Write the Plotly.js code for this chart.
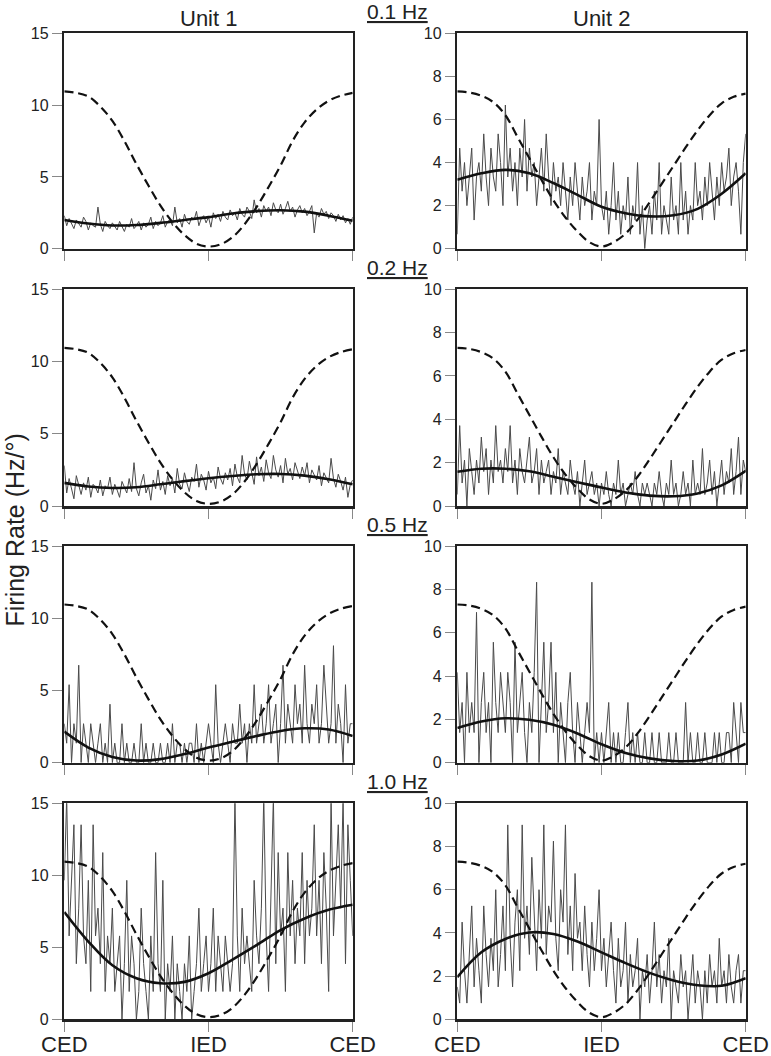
<!DOCTYPE html>
<html><head><meta charset="utf-8">
<script src="https://cdn.plot.ly/plotly-3.0.1.min.js"></script>
<style>html,body{margin:0;padding:0;background:#fff}#chart{width:771px;height:1056px}</style>
</head><body><div id="chart"></div>
<script>
// ---------- data ----------
const binWidthDeg = 3; // bin spacing of the firing-rate histograms (degrees of phase)
const xTickVals = [0, 180, 360];
const xTickText = ["CED", "IED", "CED"];
const unitTitles = ["Unit 1", "Unit 2"];
const freqLabels = ["0.1 Hz", "0.2 Hz", "0.5 Hz", "1.0 Hz"];
const yTitle = "Firing Rate (Hz/°)";
const yTicksU1 = [0, 5, 10, 15];
const yTicksU2 = [0, 2, 4, 6, 8, 10];

// stimulus position (dashed), scaled per unit
const stimPhase = [0,15,30,45,60,75,90,105,120,135,150,165,180,195,210,225,240,255,270,285,300,315,330,345,360];
const stimU1 = [10.95,10.85,10.6,9.9,8.9,7.5,5.9,4.4,3.0,1.85,0.95,0.35,0.15,0.3,0.8,1.7,2.9,4.3,5.8,7.5,8.8,9.7,10.3,10.65,10.85];
const stimU2 = [7.3,7.25,7.1,6.8,6.2,5.2,4.2,3.2,2.25,1.45,0.8,0.3,0.1,0.3,0.7,1.35,2.15,3.0,3.85,4.7,5.5,6.2,6.75,7.05,7.2];

// fitted sinusoids (solid)
const fitPhase = [0,30,60,90,120,150,180,210,240,270,300,330,360];
const fitU1_01 = [2.0,1.75,1.62,1.65,1.8,2.0,2.2,2.45,2.62,2.68,2.58,2.3,1.95];
const fitU1_02 = [1.6,1.35,1.25,1.3,1.5,1.72,1.92,2.08,2.2,2.22,2.1,1.85,1.5];
const fitU1_05 = [2.15,1.05,0.4,0.15,0.25,0.6,1.05,1.45,1.85,2.2,2.38,2.3,1.85];
const fitU1_10 = [7.45,5.4,3.75,2.85,2.5,2.6,3.2,4.15,5.15,6.2,7.0,7.6,7.95];
const fitU2_01 = [3.2,3.5,3.66,3.5,3.05,2.5,1.95,1.65,1.5,1.55,1.85,2.55,3.5];
const fitU2_02 = [1.58,1.72,1.72,1.6,1.35,1.1,0.85,0.62,0.48,0.45,0.58,0.95,1.62];
const fitU2_05 = [1.6,1.9,2.05,1.98,1.75,1.35,0.85,0.45,0.2,0.08,0.1,0.38,0.88];
const fitU2_10 = [1.95,3.1,3.72,4.02,3.95,3.6,3.1,2.6,2.15,1.8,1.58,1.55,1.9];

// binned firing rates (noisy traces)
const rateU1_01 = [2.3,1.6,2.1,1.8,1.4,2.0,1.7,1.5,2.2,1.9,1.3,1.8,1.6,1.5,2.9,1.7,1.2,1.9,1.6,1.4,
 1.8,1.5,1.3,1.9,1.6,1.2,1.7,1.5,2.1,1.4,1.6,1.9,1.3,1.8,1.5,1.7,2.2,1.4,1.9,1.6,
 1.8,2.3,1.5,1.9,2.0,1.6,2.9,1.8,2.1,1.5,2.4,1.9,1.7,2.2,2.0,2.6,1.6,2.1,2.3,1.8,
 2.2,1.5,2.5,2.1,2.4,1.9,2.6,2.2,2.0,2.7,2.3,2.5,2.0,2.8,2.4,2.2,2.9,2.6,2.1,3.4,
 2.5,2.8,2.2,3.0,2.6,2.9,2.3,3.2,2.7,2.5,3.1,2.4,2.8,3.3,2.6,2.9,2.2,2.7,3.0,2.5,
 2.8,2.3,2.6,3.0,1.1,2.5,2.2,2.8,2.4,2.6,2.1,2.5,2.3,1.9,2.4,2.0,2.3,1.8,2.1,1.7,2.2];
const rateU1_02 = [2.8,0.9,1.9,1.2,0.5,2.1,1.4,0.8,1.6,1.1,2.0,0.6,1.5,1.3,0.9,1.8,0.7,1.4,1.2,2.0,
 0.8,1.5,1.1,0.6,1.7,1.3,0.9,1.9,1.0,3.0,1.2,0.7,1.6,2.2,0.9,1.4,0.4,1.8,1.2,2.5,
 1.1,1.7,0.8,2.1,1.4,1.9,0.9,2.6,1.5,1.2,2.3,1.6,1.0,2.0,1.7,2.9,1.3,2.2,1.8,1.1,
 2.4,1.6,2.0,1.2,2.7,1.9,1.5,2.3,1.8,2.6,1.4,2.9,2.0,1.6,3.5,2.2,1.8,3.1,2.4,1.5,
 3.4,2.1,2.7,1.7,3.2,2.3,1.9,3.5,2.5,2.0,2.8,1.6,3.3,2.2,2.6,1.8,3.0,2.4,1.9,2.7,
 2.1,3.0,1.6,2.5,2.2,1.8,2.8,1.4,2.3,2.0,1.6,3.3,1.9,1.3,2.2,1.7,1.1,2.0,0.6,1.5,1.8];
const rateU1_05 = [2.7,1.35,5.4,0,2.7,1.35,6.75,0,2.7,1.35,0,2.7,1.35,0,1.35,2.7,0,1.35,0,4.05,
 0,1.35,0,0,2.7,0,1.35,0,0,1.35,0,0,2.7,0,1.35,0,0,1.35,0,0,
 1.35,0,0,1.35,0,2.7,0,1.35,1.35,0,1.35,0,1.35,1.35,0,2.7,0,1.35,0,1.35,
 2.7,1.35,0,5.4,1.35,0,1.35,2.7,1.35,0,2.7,1.35,1.35,4.05,1.35,2.7,0,2.7,1.35,5.4,
 1.35,2.7,4.05,1.35,2.7,5.4,1.35,2.7,4.05,0,2.7,6.75,1.35,4.05,2.7,1.35,5.4,2.7,4.05,1.35,
 6.75,2.7,1.35,4.05,2.7,5.4,1.35,2.7,6.75,4.05,1.35,2.7,8.1,1.35,4.05,2.7,0,5.4,1.35,2.7,2.7];
const rateU1_10 = [9.65,15.44,5.79,9.65,13.51,3.86,7.72,13.51,5.79,3.86,9.65,1.93,13.51,5.79,7.72,3.86,11.58,1.93,5.79,3.86,
 7.72,1.93,3.86,5.79,0,3.86,9.65,1.93,5.79,3.86,0,1.93,7.72,3.86,1.93,0,5.79,1.93,11.58,3.86,
 1.93,9.65,0,3.86,1.93,5.79,0,3.86,1.93,0,3.86,1.93,5.79,0,1.93,3.86,7.72,1.93,3.86,5.79,
 1.93,3.86,7.72,1.93,5.79,3.86,1.93,5.79,3.86,1.93,3.86,15.44,5.79,1.93,7.72,3.86,5.79,3.86,1.93,9.65,
 5.79,3.86,7.72,15.44,5.79,1.93,9.65,15.44,3.86,11.58,5.79,7.72,1.93,11.58,5.79,9.65,3.86,7.72,5.79,11.58,
 3.86,9.65,5.79,7.72,13.51,5.79,9.65,3.86,11.58,7.72,1.93,15.44,5.79,9.65,13.51,7.72,15.44,3.86,13.51,9.65,5.79];
const rateU2_01 = [0.67,4.67,2.67,4.0,2.0,3.33,4.67,1.33,3.33,4.0,2.67,5.33,3.33,2.0,4.67,3.33,2.67,5.33,4.0,2.0,
 6.67,3.33,4.67,2.67,4.0,2.0,4.67,3.33,6.0,2.67,4.67,3.33,4.0,2.0,3.33,4.67,2.67,5.33,3.33,2.0,
 4.0,2.67,3.33,2.0,4.0,2.67,1.33,3.33,2.0,4.0,2.67,1.33,3.33,2.0,2.67,4.0,1.33,2.67,2.0,6.0,
 2.0,1.33,2.67,0.67,2.0,4.0,1.33,2.67,0.67,2.0,1.33,3.33,0.67,2.0,1.33,4.0,0.67,2.0,0,1.33,
 2.0,0.67,2.67,1.33,4.0,0.67,2.0,1.33,0.67,3.33,1.33,2.0,0.67,4.0,1.33,2.67,0.67,2.0,1.33,4.0,
 2.0,2.67,1.33,3.33,2.0,4.0,2.67,1.33,3.33,2.0,4.0,2.67,3.33,4.67,2.0,3.33,4.0,2.67,0.67,4.0,5.33];
const rateU2_02 = [0.53,3.71,1.06,2.12,0,2.65,1.59,0.53,2.12,1.06,3.18,1.59,2.65,0.53,2.12,1.06,3.71,1.59,2.12,1.06,
 2.65,1.59,3.71,1.06,2.12,0.53,2.65,1.59,1.06,2.12,3.18,1.06,1.59,2.65,0.53,2.12,1.06,1.59,2.12,0.53,
 1.59,1.06,2.65,0.53,1.59,1.06,0.53,2.12,1.06,0.53,1.59,0,1.06,2.12,0.53,1.06,1.59,0.53,1.06,0,
 1.06,0.53,1.59,0.53,0,1.06,0.53,2.12,0.53,1.06,0,0.53,1.06,0.53,1.59,0.53,0,1.06,0.53,1.06,
 0.53,0,1.06,0.53,1.59,0.53,0,1.06,0.53,2.12,0.53,1.06,0,0.53,1.59,0.53,1.06,0,2.12,0.53,
 1.06,0.53,2.65,0.53,1.06,2.12,0.53,1.59,0,1.06,2.12,0.53,1.59,1.06,2.65,0.53,1.59,3.18,0.53,2.12,1.59];
const rateU2_05 = [4.17,1.39,2.78,0,4.17,1.39,2.78,1.39,6.94,0,2.78,4.17,1.39,2.78,0,5.56,2.78,1.39,4.17,2.78,
 1.39,4.17,2.78,0,5.56,1.39,2.78,4.17,1.39,0,2.78,1.39,4.17,8.33,0,2.78,5.56,1.39,2.78,5.56,
 1.39,4.17,0,2.78,1.39,0,2.78,4.17,1.39,0,2.78,1.39,0,1.39,2.78,1.39,8.33,0,1.39,0,
 1.39,0,1.39,2.78,0,1.39,0,1.39,0,0,1.39,2.78,0,1.39,0,1.39,0,0,1.39,0,
 0,1.39,0,0,1.39,0,0,0,1.39,0,0,1.39,0,0,0,2.78,0,1.39,0,0,
 1.39,0,0,1.39,0,0,0,1.39,0,1.39,0,0,1.39,1.39,0,2.78,1.39,0,2.78,1.39,1.39];
const rateU2_10 = [1.5,0.75,4.5,2.25,0.75,3.0,5.25,1.5,3.75,2.25,0.75,5.25,3.0,1.5,3.75,2.25,6.0,1.5,3.0,5.25,
 2.25,9.0,3.75,1.5,4.5,6.0,2.25,9.0,3.75,5.25,3.0,7.5,4.5,2.25,6.0,3.75,9.0,3.0,5.25,4.5,
 8.25,3.75,2.25,6.0,4.5,9.0,3.0,5.25,2.25,6.75,3.75,4.5,2.25,5.25,3.0,1.5,4.5,2.25,3.75,6.0,
 2.25,3.75,1.5,3.0,4.5,2.25,0.75,3.75,1.5,2.25,4.5,0.75,3.0,1.5,2.25,3.75,0,2.25,1.5,3.0,
 0.75,2.25,4.5,1.5,3.0,0.75,2.25,1.5,3.75,0,2.25,1.5,0.75,3.0,1.5,2.25,0,1.5,3.0,0.75,
 2.25,1.5,0,2.25,0.75,3.0,1.5,2.25,0.75,3.75,1.5,2.25,0.75,3.0,1.5,0.75,2.25,3.0,0.75,2.25,2.25];

// ---------- build ----------
const panels = [
  {rate: rateU1_01, fit: fitU1_01, stim: stimU1, unit: 0},
  {rate: rateU2_01, fit: fitU2_01, stim: stimU2, unit: 1},
  {rate: rateU1_02, fit: fitU1_02, stim: stimU1, unit: 0},
  {rate: rateU2_02, fit: fitU2_02, stim: stimU2, unit: 1},
  {rate: rateU1_05, fit: fitU1_05, stim: stimU1, unit: 0},
  {rate: rateU2_05, fit: fitU2_05, stim: stimU2, unit: 1},
  {rate: rateU1_10, fit: fitU1_10, stim: stimU1, unit: 0},
  {rate: rateU2_10, fit: fitU2_10, stim: stimU2, unit: 1}
];

const W = 771, H = 1056;
const xDom = [[64.3/W, 352.7/W], [457.3/W, 745.7/W]];
const rowPx = [[33.3, 248.7], [289.3, 506], [546, 762.7], [803.3, 1019.3]];
const yDom = rowPx.map(r => [1 - r[1]/H, 1 - r[0]/H]);

const FONT = '"Liberation Sans", Arial, Helvetica, sans-serif';
const traces = [];
const layout = {
  width: W, height: H,
  margin: {l: 0, r: 0, t: 0, b: 0},
  paper_bgcolor: '#fff', plot_bgcolor: '#fff',
  showlegend: false,
  font: {family: FONT, color: '#222', size: 16},
  annotations: []
};

panels.forEach((p, i) => {
  const k = i + 1;
  const xa = 'x' + (k === 1 ? '' : k), ya = 'y' + (k === 1 ? '' : k);
  const row = Math.floor(i / 2);
  const phases = p.rate.map((_, j) => j * binWidthDeg);
  traces.push({x: phases, y: p.rate, xaxis: xa, yaxis: ya, type: 'scatter', mode: 'lines',
    line: {color: '#4a4a4a', width: 1}, hoverinfo: 'skip'});
  traces.push({x: stimPhase, y: p.stim, xaxis: xa, yaxis: ya, type: 'scatter', mode: 'lines',
    line: {color: '#111', width: 2.2, dash: '9px,5px', shape: 'spline', smoothing: 1}, hoverinfo: 'skip'});
  traces.push({x: fitPhase, y: p.fit, xaxis: xa, yaxis: ya, type: 'scatter', mode: 'lines',
    line: {color: '#111', width: 2.6, shape: 'spline', smoothing: 1}, hoverinfo: 'skip'});

  const axCommon = {showline: true, mirror: true, linecolor: '#222', linewidth: 2.5,
    ticks: 'outside', ticklen: 10, tickwidth: 1, tickcolor: '#888',
    showgrid: false, zeroline: false, automargin: false, fixedrange: true};
  layout['xaxis' + (k === 1 ? '' : k)] = Object.assign({}, axCommon, {
    domain: xDom[p.unit], anchor: ya, range: [0, 360],
    tickmode: 'array', tickvals: xTickVals, ticktext: xTickText,
    showticklabels: row === 3, ticklabelstandoff: -6,
    tickfont: {size: 22, family: FONT, color: '#222'}
  });
  layout['yaxis' + (k === 1 ? '' : k)] = Object.assign({}, axCommon, {
    domain: yDom[row], anchor: xa, range: p.unit === 0 ? [0, 15] : [0, 10],
    tickmode: 'array', tickvals: p.unit === 0 ? yTicksU1 : yTicksU2,
    tickfont: {size: 16, family: FONT, color: '#222'}
  });
});

// titles
unitTitles.forEach((t, u) => {
  layout.annotations.push({text: t, xref: 'paper', yref: 'paper',
    x: (xDom[u][0] + xDom[u][1]) / 2, y: 1 - 18/H, xanchor: 'center', yanchor: 'middle',
    showarrow: false, font: {size: 22, family: FONT, color: '#222'}});
});
freqLabels.forEach((t, r) => {
  layout.annotations.push({text: '<u>' + t + '</u>', xref: 'paper', yref: 'paper',
    x: 397.5/W, y: 1 - (rowPx[r][0] - 21.5)/H, xanchor: 'center', yanchor: 'middle',
    showarrow: false, font: {size: 21, family: FONT, color: '#222'}});
});
layout.annotations.push({text: yTitle, xref: 'paper', yref: 'paper',
  x: 14.5/W, y: 1 - 530/H, xanchor: 'center', yanchor: 'middle', textangle: -90,
  showarrow: false, font: {size: 25, family: FONT, color: '#222'}});

Plotly.newPlot('chart', traces, layout, {displayModeBar: false, staticPlot: true});
</script>
</body></html>
